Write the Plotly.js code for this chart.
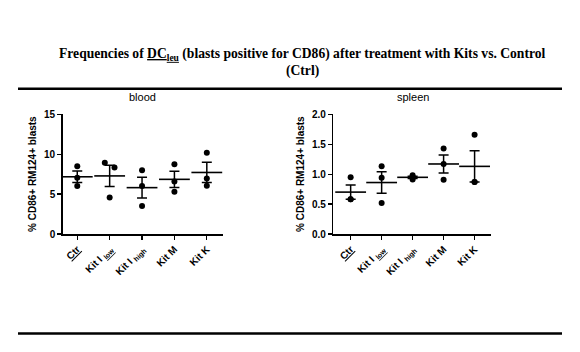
<!DOCTYPE html>
<html>
<head>
<meta charset="utf-8">
<script src="https://cdn.plot.ly/plotly-3.0.1.min.js"></script>
<style>html,body{margin:0;padding:0;background:#fff;}#chart{width:580px;height:352px;}</style>
</head>
<body>
<div id="chart"></div>
<script>
// ---- data ----
const categories = ['Ctr', 'Kit I low', 'Kit I high', 'Kit M', 'Kit K'];
const tickLabels = [
  '<span style="text-decoration:underline wavy;text-decoration-color:#e00000">Ctr</span>',
  'Kit I <sub><span style="text-decoration:underline wavy;text-decoration-color:#e00000">low</span></sub>',
  'Kit I <sub>high</sub>',
  'Kit M',
  'Kit K'
];
// individual animals per group (3 each)
const bloodPoints = [[8.5, 7.04, 6.0], [8.92, 8.33, 4.58], [8.0, 6.0, 3.5], [8.75, 6.58, 5.29], [10.17, 6.96, 6.04]];
const bloodJitter = [[0, 0, 0], [-0.15, 0.15, 0], [0, 0, 0], [0, 0, 0], [0, 0, 0]];
const bloodMean = [7.17, 7.28, 5.81, 6.85, 7.71];
const bloodSEM = [0.72, 1.34, 1.30, 1.01, 1.27];

const spleenPoints = [[0.95, 0.58, 0.58], [1.13, 0.94, 0.52], [0.98, 0.95, 0.91], [1.43, 1.17, 0.905], [1.66, 0.87, 0.87]];
const spleenJitter = [[0, 0, 0], [0, 0, 0], [0, 0, 0], [0, 0, 0], [0, 0, 0]];
const spleenMean = [0.70, 0.86, 0.947, 1.17, 1.13];
const spleenSEM = [0.12, 0.18, 0.02, 0.15, 0.26];

const bloodTicks = [0, 5, 10, 15];
const spleenTicks = [0, 0.5, 1.0, 1.5, 2.0];

// ---- build traces ----
function pointsTrace(points, jitter, xa, ya) {
  const x = [], y = [];
  points.forEach((grp, i) => grp.forEach((v, j) => { x.push(i + jitter[i][j]); y.push(v); }));
  return {x, y, xaxis: xa, yaxis: ya, type: 'scatter', mode: 'markers',
    marker: {color: '#000', size: 6}, hoverinfo: 'skip', showlegend: false, cliponaxis: false};
}
function meanTrace(mean, sem, xa, ya) {
  return {x: categories.map((c, i) => i), y: mean, xaxis: xa, yaxis: ya, type: 'scatter', mode: 'markers',
    marker: {symbol: 'line-ew', size: 22, line: {color: '#000', width: 1.6}},
    error_y: {type: 'data', array: sem, visible: true, color: '#000', thickness: 1.5, width: 5},
    hoverinfo: 'skip', showlegend: false, cliponaxis: false};
}

const traces = [
  meanTrace(bloodMean, bloodSEM, 'x', 'y'),
  pointsTrace(bloodPoints, bloodJitter, 'x', 'y'),
  meanTrace(spleenMean, spleenSEM, 'x2', 'y2'),
  pointsTrace(spleenPoints, spleenJitter, 'x2', 'y2')
];

const W = 580, H = 352;
const px = v => v / W, py = v => 1 - v / H;
const tickFont = {family: 'Liberation Sans, Arial, sans-serif', size: 10, color: '#000', weight: 'bold'};
const axisCommon = {showgrid: false, zeroline: false, showline: true, linecolor: '#000', linewidth: 1.5,
  ticks: 'outside', ticklen: 4, tickwidth: 1.3, tickcolor: '#000', tickfont: tickFont, fixedrange: true};
const xCommon = Object.assign({}, axisCommon, {tickmode: 'array', tickvals: categories.map((c, i) => i),
  ticktext: tickLabels, tickangle: -45});
const yTitle = {text: '% CD86+ RM124+ blasts', font: {family: 'Liberation Sans, Arial, sans-serif', size: 10, color: '#000', weight: 'bold'}, standoff: 5};

const layout = {
  width: W, height: H, margin: {l: 0, r: 0, t: 0, b: 0},
  paper_bgcolor: '#fff', plot_bgcolor: 'rgba(0,0,0,0)', showlegend: false,
  xaxis: Object.assign({}, xCommon, {domain: [px(62.7), px(223)], range: [-0.45, 4.5], anchor: 'y'}),
  yaxis: Object.assign({}, axisCommon, {domain: [py(234), py(114.3)], range: [0, 15], tickvals: bloodTicks, anchor: 'x', title: yTitle}),
  xaxis2: Object.assign({}, xCommon, {domain: [px(333.3), px(490.7)], range: [-0.56, 4.52], anchor: 'y2'}),
  yaxis2: Object.assign({}, axisCommon, {domain: [py(234), py(114.3)], range: [0, 2], tickvals: spleenTicks, tickformat: '.1f', anchor: 'x2', title: yTitle}),
  shapes: [
    {type: 'line', xref: 'paper', yref: 'paper', x0: px(18), x1: px(562), y0: py(88.8), y1: py(88.8), line: {color: '#000', width: 2.6}},
    {type: 'line', xref: 'paper', yref: 'paper', x0: px(18), x1: px(562), y0: py(333.5), y1: py(333.5), line: {color: '#000', width: 2.6}}
  ],
  annotations: [
    {xref: 'paper', yref: 'paper', x: px(302), y: py(54), xanchor: 'center', yanchor: 'middle', showarrow: false,
     text: '<b>Frequencies of <span style="text-decoration:underline wavy;text-decoration-color:#e00000">DC<sub>leu</sub></span> (blasts positive for CD86) after treatment with Kits vs. Control</b>',
     font: {family: 'Liberation Serif, Times New Roman, serif', size: 13.6, color: '#000'}},
    {xref: 'paper', yref: 'paper', x: px(302), y: py(71), xanchor: 'center', yanchor: 'middle', showarrow: false,
     text: '<b>(Ctrl)</b>', font: {family: 'Liberation Serif, Times New Roman, serif', size: 13.6, color: '#000'}},
    {xref: 'paper', yref: 'paper', x: px(142.7), y: py(97), xanchor: 'center', yanchor: 'middle', showarrow: false,
     text: 'blood', font: {family: 'Liberation Sans, Arial, sans-serif', size: 11, color: '#000'}},
    {xref: 'paper', yref: 'paper', x: px(412.7), y: py(97), xanchor: 'center', yanchor: 'middle', showarrow: false,
     text: 'spleen', font: {family: 'Liberation Sans, Arial, sans-serif', size: 11, color: '#000'}}
  ]
};

Plotly.newPlot('chart', traces, layout, {displayModeBar: false, staticPlot: true});
</script>
</body>
</html>
